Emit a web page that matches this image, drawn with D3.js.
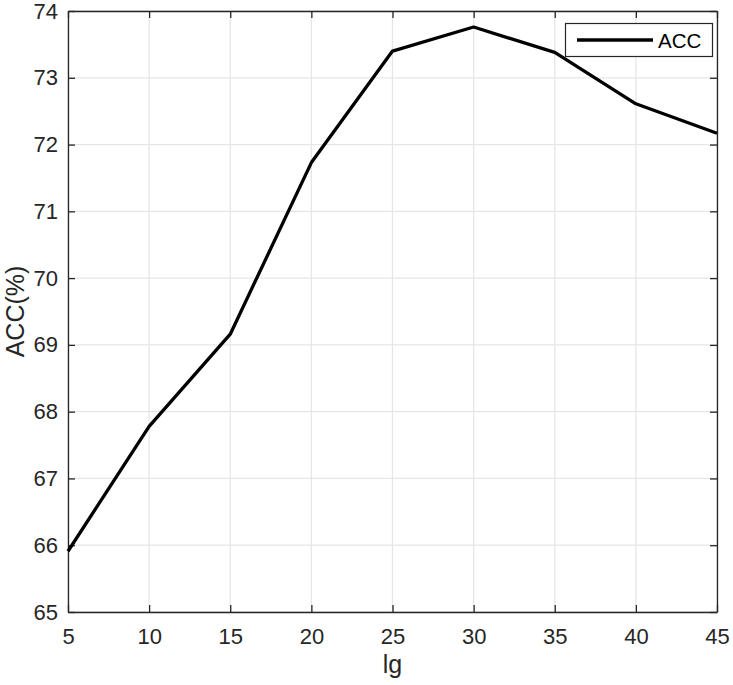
<!DOCTYPE html>
<html>
<head>
<meta charset="utf-8">
<script src="https://cdn.jsdelivr.net/npm/d3@7"></script>
<style>
body{margin:0;background:#fff;}
svg{display:block;font-family:"Liberation Sans",Arial,Helvetica,sans-serif;}
</style>
</head>
<body>
<svg id="chart" width="733" height="685"></svg>
<script>
const lgValues = [5, 10, 15, 20, 25, 30, 35, 40, 45];
const accValues = [65.91, 67.78, 69.16, 71.73, 73.40, 73.76, 73.38, 72.61, 72.17];
const xTicks = [5, 10, 15, 20, 25, 30, 35, 40, 45];
const yTicks = [65, 66, 67, 68, 69, 70, 71, 72, 73, 74];
const seriesName = "ACC";
const xLabel = "lg";
const yLabel = "ACC(%)";

const svg = d3.select("#chart");
const L = 68, R = 717, T = 11, B = 612;
const x = d3.scaleLinear().domain([5, 45]).range([L, R]);
const y = d3.scaleLinear().domain([65, 74]).range([B, T]);
const axisColor = "#262626";

// grid
const g = svg.append("g");
g.selectAll(".vg").data(xTicks).enter().append("line")
  .attr("x1", d => x(d)).attr("x2", d => x(d)).attr("y1", T).attr("y2", B)
  .attr("stroke", "#e6e6e6").attr("stroke-width", 1.3);
g.selectAll(".hg").data(yTicks).enter().append("line")
  .attr("y1", d => y(d)).attr("y2", d => y(d)).attr("x1", L).attr("x2", R)
  .attr("stroke", "#e6e6e6").attr("stroke-width", 1.3);

// axes
const tick = 7;
const xb = svg.append("g").attr("transform", `translate(0,${B})`)
  .call(d3.axisBottom(x).tickValues(xTicks).tickSizeInner(-tick).tickSizeOuter(0).tickPadding(16));
const xt = svg.append("g").attr("transform", `translate(0,${T})`)
  .call(d3.axisTop(x).tickValues(xTicks).tickSizeInner(-tick).tickSizeOuter(0).tickFormat(""));
const yl = svg.append("g").attr("transform", `translate(${L},0)`)
  .call(d3.axisLeft(y).tickValues(yTicks).tickSizeInner(-tick).tickSizeOuter(0).tickPadding(10));
const yr = svg.append("g").attr("transform", `translate(${R},0)`)
  .call(d3.axisRight(y).tickValues(yTicks).tickSizeInner(-tick).tickSizeOuter(0).tickFormat(""));
[xb, xt, yl, yr].forEach(a => {
  a.attr("font-size", null).attr("font-family", null);
  a.selectAll("path.domain").attr("stroke", axisColor).attr("stroke-width", 1.3);
  a.selectAll(".tick line").attr("stroke", axisColor).attr("stroke-width", 1.3);
  a.selectAll(".tick text").attr("fill", axisColor).style("font-size", "22px")
    .style("font-family", '"Liberation Sans",Arial,sans-serif');
});

// data line
svg.append("path").datum(lgValues.map((v, i) => [v, accValues[i]]))
  .attr("fill", "none").attr("stroke", "#000").attr("stroke-width", 3.3)
  .attr("stroke-linejoin", "round")
  .attr("d", d3.line().x(d => x(d[0])).y(d => y(d[1])));

// labels
svg.append("text").attr("x", (L + R) / 2).attr("y", 673).attr("text-anchor", "middle")
  .style("font-size", "25px").attr("fill", axisColor).text(xLabel);
svg.append("text").attr("transform", `translate(24,${(T + B) / 2}) rotate(-90)`)
  .attr("text-anchor", "middle").style("font-size", "25px").attr("fill", axisColor).text(yLabel);

// legend
const lg = svg.append("g");
lg.append("rect").attr("x", 565.5).attr("y", 23.5).attr("width", 147).attr("height", 33)
  .attr("fill", "#fff").attr("stroke", axisColor).attr("stroke-width", 1.2);
lg.append("line").attr("x1", 577).attr("x2", 653).attr("y1", 40).attr("y2", 40)
  .attr("stroke", "#000").attr("stroke-width", 3.3);
lg.append("text").attr("x", 658).attr("y", 47.5).style("font-size", "20.5px").attr("fill", "#000").text(seriesName);
</script>
</body>
</html>
